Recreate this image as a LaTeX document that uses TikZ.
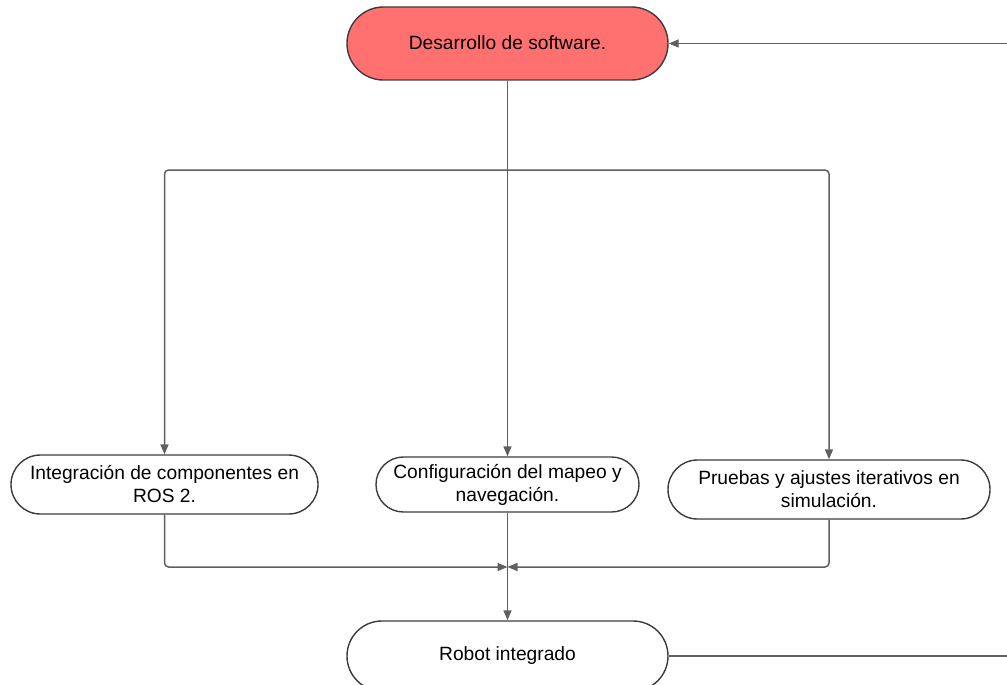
\documentclass[tikz,border=0pt]{standalone}
\usepackage{fontspec}
\setmainfont{Liberation Sans}
\usetikzlibrary{arrows.meta}
\definecolor{topfill}{RGB}{255,112,112}
\definecolor{edgegray}{RGB}{60,60,60}
\definecolor{conngray}{RGB}{95,95,95}
\tikzset{
  pill/.style={draw=edgegray, line width=1.4pt, inner sep=0pt, align=center,
    font=\fontsize{19.2}{23}\selectfont, text=black},
  conn/.style={draw=conngray, line width=1.5pt, rounded corners=4pt},
  arr/.style={conn, -{Triangle[length=10pt,width=8pt]}},
}
\begin{document}
\begin{tikzpicture}[x=1pt,y=-1pt]
\useasboundingbox (0,0) rectangle (1007,685);
\node[pill, fill=topfill, minimum width=321pt, minimum height=73pt, rounded corners=36.4pt] (top) at (507.5,43.5) {\raisebox{2.5pt}{Desarrollo de software.}};
\node[pill, fill=white, minimum width=307pt, minimum height=59pt, rounded corners=29.4pt] (left) at (164.5,484.5) {Integración de componentes en\\ROS 2.};
\node[pill, fill=white, minimum width=263pt, minimum height=55pt, rounded corners=27.4pt] (mid) at (507.5,484.5) {Configuración del mapeo y\\navegación.};
\node[pill, fill=white, minimum width=322pt, minimum height=59pt, rounded corners=29.4pt] (right) at (829,489.5) {Pruebas y ajustes iterativos en\\simulación.};
\node[pill, fill=white, minimum width=321pt, minimum height=70pt, rounded corners=34.9pt] (bot) at (507.5,656) {Robot integrado};
\coordinate (j) at (507.5,170);
\coordinate (m) at (507.5,567);
\coordinate (e1) at (1010,656);
\coordinate (e2) at (1010,43.5);
\draw[conn] (top.south) -- (j);
\draw[arr] (j) -| (left.north);
\draw[arr] (j) -| (right.north);
\draw[arr] (j) -- (mid.north);
\draw[arr] (left.south) |- (m);
\draw[arr] (right.south) |- (m);
\draw[arr] (mid.south) -- (bot.north);
\draw[conn] (bot.east) -- (e1);
\draw[arr] (e2) -- (top.east);
\end{tikzpicture}
\end{document}
